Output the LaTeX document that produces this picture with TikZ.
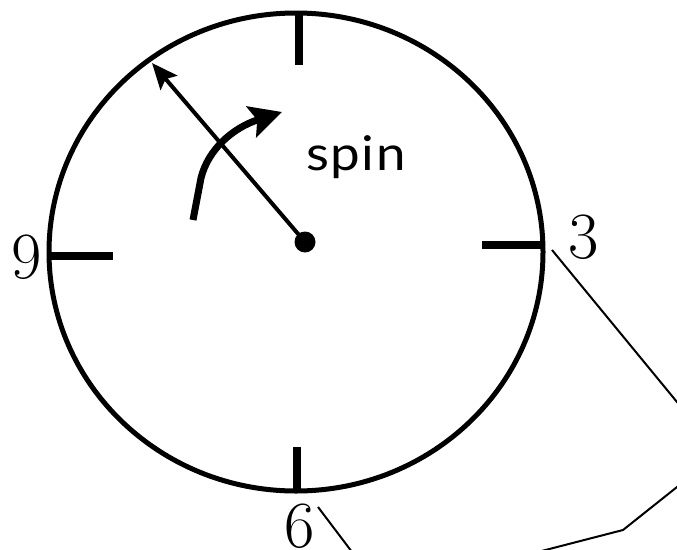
\documentclass[tikz,border=0pt]{standalone}
\usepackage{fontspec}
\newfontfamily\spinfont[LetterSpace=3]{Lato}
\usetikzlibrary{arrows.meta,shapes.geometric}
\begin{document}
\begin{tikzpicture}[x=1pt,y=-1pt,
  rim/.style={line width=5pt},
  ticmark/.style={line width=8pt},
  digit/.style={font=\fontsize{66}{66}\selectfont, inner sep=0pt},
  guide/.style={line width=2pt},
  handline/.style={line width=4pt, -{Stealth[length=26pt,width=22pt,inset=5pt]}},
  spinarrow/.style={line width=7pt, -{Stealth[length=32pt,width=32pt,inset=6pt]}},
  spinlabel/.style={font=\spinfont\fontsize{46}{46}\selectfont, inner sep=0pt, anchor=base west}]
\useasboundingbox (0,0) rectangle (677,549);
% dial
\node[draw, rim, ellipse, minimum width=494pt, minimum height=478pt, inner sep=0pt] (dial) at (296,252) {};
\draw[ticmark] (299,15) -- (299,65);
\draw[ticmark] (49,256) -- (113,256);
\draw[ticmark] (482,245) -- (543,245);
\draw[ticmark] (296.5,447) -- (296.5,490);
% labels
\node[digit] (nine) at (27,257) {9};
\node[digit] (three) at (584,237) {3};
\node[digit] (six) at (300,526) {6};
\node[spinlabel] (spin) at (306,170) {\scalebox{1.15}[1.04]{spin}};
% hand
\node[circle, fill, inner sep=0pt, minimum size=21pt] (hub) at (305,242) {};
\coordinate (handtip) at (152,63);
\draw[handline] (hub.center) -- (handtip);
% spin arrow
\coordinate (sa) at (193,220);
\coordinate (sb) at (201,178);
\coordinate (sc) at (282,112);
\draw[spinarrow] (sa) -- (sb) .. controls (208,150) and (232,128) .. (sc);
% thin guide lines
\begin{scope}
\clip (0,0) rectangle (677,549);
\coordinate (ga1) at (552,250);
\coordinate (ga2) at (700,430);
\coordinate (gb1) at (700,468.7);
\coordinate (gb2) at (623,530);
\coordinate (gb3) at (530,554);
\coordinate (gc1) at (318,507);
\coordinate (gc2) at (352,552);
\draw[guide] (ga1) -- (ga2);
\draw[guide, line join=miter] (gb1) -- (gb2) -- (gb3);
\draw[guide] (gc1) -- (gc2);
\end{scope}
\end{tikzpicture}
\end{document}
